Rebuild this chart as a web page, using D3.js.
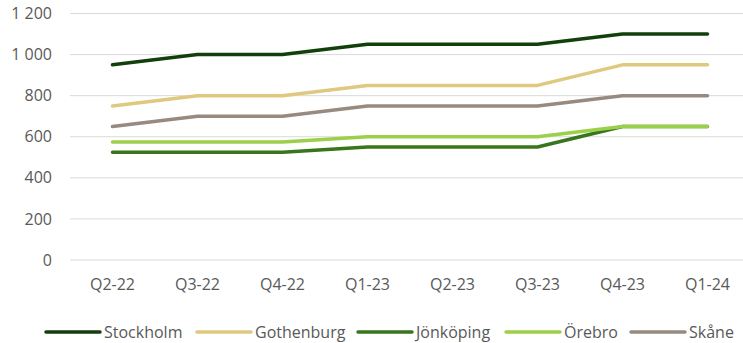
<!DOCTYPE html>
<html><head><meta charset="utf-8">
<script src="https://cdn.jsdelivr.net/npm/d3@7"></script>
<style>body{margin:0;background:#fff;} svg{display:block;font-family:"Open Sans", sans-serif;}</style>
</head><body><svg id="c" width="743" height="343"></svg>
<script>
const categories = ["Q2-22","Q3-22","Q4-22","Q1-23","Q2-23","Q3-23","Q4-23","Q1-24"];
const seriesNames = ["Stockholm","Gothenburg","Jönköping","Örebro","Skåne"];
const stockholm = [950,1000,1000,1050,1050,1050,1100,1100];
const gothenburg = [750,800,800,850,850,850,950,950];
const jonkoping = [525,525,525,550,550,550,650,650];
const orebro = [575,575,575,600,600,600,650,650];
const skane = [650,700,700,750,750,750,800,800];
const yTicks = [0,200,400,600,800,1000,1200];
const colors = ["#133f0c","#dfc97f","#38751d","#9ccf4a","#978a80"];
const seriesValues = [stockholm,gothenburg,jonkoping,orebro,skane];

const svg = d3.select("#c");
const x = d3.scaleBand().domain(categories).range([70,750]);
const y = d3.scaleLinear().domain([0,1200]).range([260,13.5]);
const fmt = v => v >= 1000 ? d3.format(",")(v).replace(",", " ") : String(v);
const FS = 16;

svg.append("g").selectAll("line").data(yTicks).join("line")
  .attr("x1",70).attr("x2",743).attr("y1",d=>y(d)).attr("y2",d=>y(d))
  .attr("stroke","#d9d9d9").attr("stroke-width",1);
svg.append("g").selectAll("text").data(yTicks).join("text")
  .attr("x",52).attr("y",d=>y(d)).attr("dy","0.35em").attr("text-anchor","end")
  .attr("font-size",FS).attr("fill","#595959").text(fmt);
svg.append("g").selectAll("text").data(categories).join("text")
  .attr("x",d=>x(d)+x.bandwidth()/2).attr("y",290).attr("text-anchor","middle")
  .attr("font-size",FS).attr("fill","#595959").text(d=>d);

const line = d3.line().x((d,i)=>x(categories[i])+x.bandwidth()/2).y(d=>y(d));
const order = [4,1,2,3,0];
order.forEach(i=>{
  svg.append("path").attr("d",line(seriesValues[i])).attr("fill","none")
    .attr("stroke",colors[i]).attr("stroke-width",3.5).attr("stroke-linecap","round").attr("stroke-linejoin","round");
});

const legX = [46,197,358,506,631];
const lg = svg.append("g");
seriesNames.forEach((n,i)=>{
  lg.append("line").attr("x1",legX[i]).attr("x2",legX[i]+54).attr("y1",332).attr("y2",332)
    .attr("stroke",colors[i]).attr("stroke-width",3.5).attr("stroke-linecap","round");
  lg.append("text").attr("x",legX[i]+58).attr("y",332).attr("dy","0.35em")
    .attr("font-size",FS).attr("fill","#595959").text(n);
});
</script></body></html>
